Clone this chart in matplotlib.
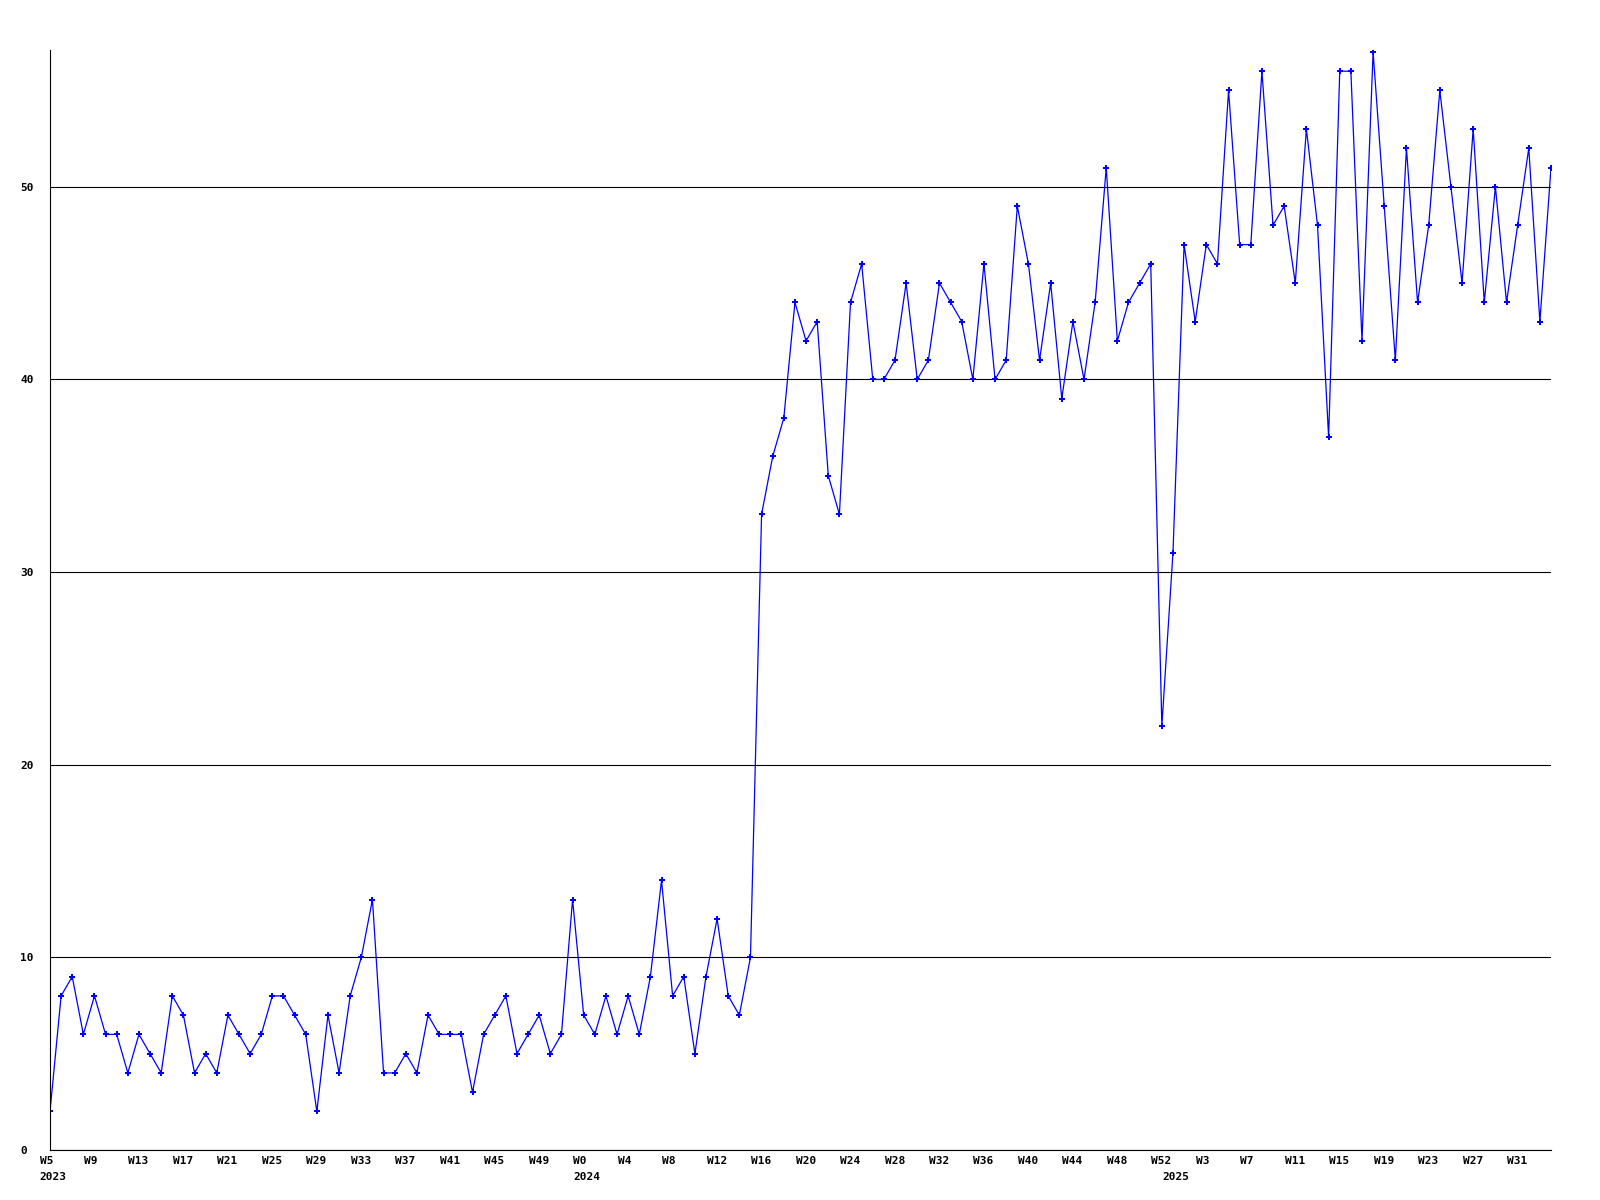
import matplotlib
matplotlib.use('Agg')
import matplotlib.pyplot as plt
import matplotlib.transforms as mtransforms

# weekly counts, 2023 W5 .. 2025 W34
values = [2, 8, 9, 6, 8, 6, 6, 4, 6, 5, 4, 8, 7, 4, 5, 4, 7, 6, 5, 6,
          8, 8, 7, 6, 2, 7, 4, 8, 10, 13, 4, 4,
          5, 4, 7, 6, 6, 6, 3, 6, 7, 8, 5, 6, 7, 5, 6, 13, 7, 6, 8, 6,
          8, 6, 9, 14, 8, 9, 5, 9, 12, 8, 7, 10,
          33, 36, 38, 44, 42, 43, 35, 33, 44, 46, 40, 40, 41, 45, 40, 41,
          45, 44, 43, 40, 46, 40, 41, 49, 46, 41, 45, 39, 43, 40, 44, 51,
          42, 44, 45, 46,
          22, 31, 47, 43, 47, 46, 55, 47, 47, 56, 48, 49, 45, 53, 48, 37,
          56, 56, 42, 57, 49, 41, 52, 44, 48, 55, 50, 45, 53, 44, 50, 44,
          48, 52, 43, 51]

week_nums = list(range(5, 53)) + list(range(0, 53)) + list(range(0, 35))
years = ['2023', '2024', '2025']
year_start = [0, 48, 101]
y_ticks = [0, 10, 20, 30, 40, 50]

plt.rcParams['font.family'] = 'DejaVu Sans Mono'
plt.rcParams['font.weight'] = 'bold'
plt.rcParams['font.size'] = 8

fig = plt.figure(figsize=(16, 12), dpi=100)
ax = fig.add_axes([50 / 1600, 50 / 1200, 1501 / 1600, 1100 / 1200])

x = list(range(len(values)))
ax.plot(x, values, color='#0000ff', lw=0.9, marker='P', ms=4.5, mew=0)

ax.set_xlim(0, len(values) - 1)
ax.set_ylim(0, 57.1)

# horizontal grid
ax.set_yticks(y_ticks)
ax.yaxis.grid(True, color='black', lw=0.8)
ax.set_axisbelow(True)

for s in ['top', 'right']:
    ax.spines[s].set_visible(False)
for s in ['left', 'bottom']:
    ax.spines[s].set_color('black')
    ax.spines[s].set_linewidth(0.8)

# week labels every 4th point, year under the first week of each year
ax.xaxis.remove_overlapping_locs = False
xt = list(range(0, len(values), 4))
ax.set_xticks(xt, ['W%d' % week_nums[i] for i in xt], ha='left')
ax.set_xticks(year_start, years, minor=True, ha='left')
ax.tick_params(axis='x', which='major', length=0, pad=4)
ax.tick_params(axis='x', which='minor', length=0, pad=16)
ax.tick_params(axis='y', length=0, pad=21.6)
for lab in ax.get_yticklabels():
    lab.set_horizontalalignment('left')

shift = mtransforms.ScaledTranslation(-10.5 / 100, 0, fig.dpi_scale_trans)
for lab in ax.get_xticklabels() + ax.get_xticklabels(minor=True):
    lab.set_transform(lab.get_transform() + shift)

fig.savefig('out.png', dpi=100, facecolor='white')
